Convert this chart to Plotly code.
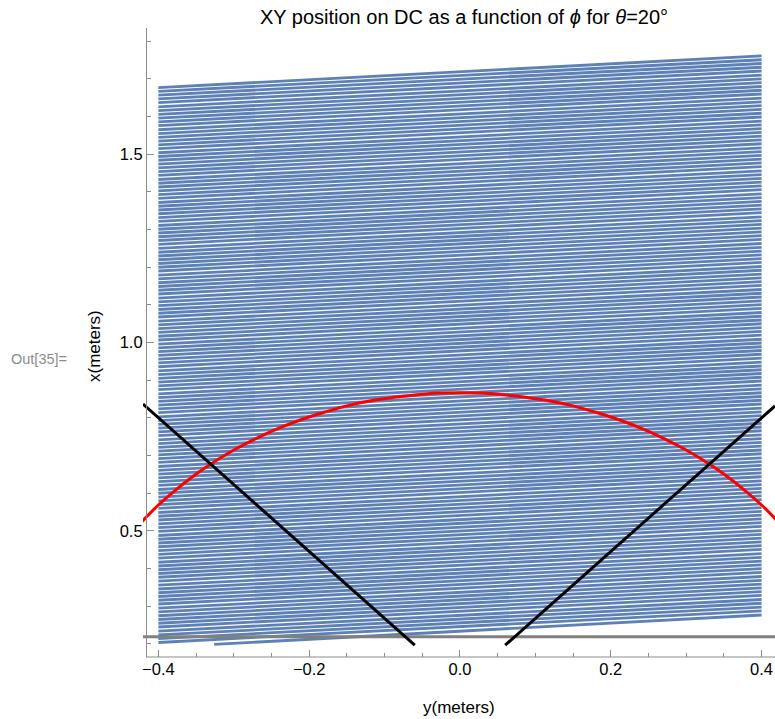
import plotly.graph_objects as go

# ---- data ----
# blue track lines: value (x, meters) at the left end y=-0.40; right end at y=+0.40 is higher by RISE
blue_left_x = [
    0.204, 0.214, 0.224, 0.234, 0.245, 0.255, 0.265, 0.275, 0.285, 0.295,
    0.306, 0.316, 0.326, 0.336, 0.346, 0.356, 0.367, 0.377, 0.387, 0.397,
    0.407, 0.417, 0.428, 0.438, 0.448, 0.458, 0.468, 0.478, 0.488, 0.499,
    0.509, 0.519, 0.529, 0.539, 0.549, 0.560, 0.570, 0.580, 0.590, 0.600,
    0.610, 0.621, 0.631, 0.641, 0.651, 0.661, 0.671, 0.682, 0.692, 0.702,
    0.712, 0.722, 0.732, 0.742, 0.753, 0.763, 0.773, 0.783, 0.793, 0.803,
    0.814, 0.824, 0.834, 0.844, 0.854, 0.864, 0.875, 0.885, 0.895, 0.905,
    0.915, 0.925, 0.936, 0.946, 0.956, 0.966, 0.976, 0.986, 0.996, 1.007,
    1.017, 1.027, 1.037, 1.047, 1.057, 1.068, 1.078, 1.088, 1.098, 1.108,
    1.118, 1.129, 1.139, 1.149, 1.159, 1.169, 1.179, 1.190, 1.200, 1.210,
    1.220, 1.230, 1.240, 1.250, 1.261, 1.271, 1.281, 1.291, 1.301, 1.311,
    1.322, 1.332, 1.342, 1.352, 1.362, 1.372, 1.383, 1.393, 1.403, 1.413,
    1.423, 1.433, 1.444, 1.454, 1.464, 1.474, 1.484, 1.494, 1.504, 1.515,
    1.525, 1.535, 1.545, 1.555, 1.565, 1.576, 1.586, 1.596, 1.606, 1.616,
    1.626, 1.637, 1.647, 1.657, 1.667, 1.677,
]
BLUE_Y_START = -0.40
BLUE_Y_END = 0.40
RISE = 0.084
# partial lowest line
partial_y = [-0.326, 0.40]
partial_x = [0.199, 0.277]

# red curve
red_y = [-0.425, -0.40, -0.38, -0.36, -0.34, -0.32, -0.30, -0.27, -0.24, -0.21,
         -0.18, -0.15, -0.12, -0.09, -0.06, -0.03, 0.0,
         0.03, 0.06, 0.09, 0.12, 0.15, 0.18, 0.21, 0.24, 0.27, 0.30,
         0.32, 0.34, 0.36, 0.38, 0.40, 0.425]
red_x = [0.518, 0.569, 0.604, 0.636, 0.665, 0.691, 0.715, 0.746, 0.773, 0.796,
         0.815, 0.832, 0.845, 0.854, 0.861, 0.866, 0.867,
         0.866, 0.861, 0.854, 0.845, 0.832, 0.815, 0.796, 0.773, 0.746, 0.715,
         0.691, 0.665, 0.636, 0.604, 0.569, 0.518]

# black lines
black_left_y = [-0.4204, -0.060]
black_left_x = [0.837, 0.197]
black_right_y = [0.060, 0.4178]
black_right_x = [0.197, 0.832]

# gray line
gray_y = [-0.43, 0.43]
gray_x = [0.219, 0.219]

# axis ranges
XR = [-0.4204, 0.4178]
YR = [0.1654, 1.8352]

FONT = "Liberation Sans"
AXC = "#8c8c8c"

# ---- build blue segments ----
bx, by = [], []
for v in blue_left_x:
    bx += [BLUE_Y_START, BLUE_Y_END, None]
    by += [v, v + RISE, None]
bx += partial_y + [None]
by += partial_x + [None]

fig = go.Figure()
fig.add_trace(go.Scatter(x=bx, y=by, mode="lines",
                         line=dict(color="#5E81B5", width=2.85),
                         hoverinfo="skip", showlegend=False))
fig.add_trace(go.Scatter(x=red_y, y=red_x, mode="lines",
                         line=dict(color="#FF0000", width=3, shape="spline"),
                         hoverinfo="skip", showlegend=False))
fig.add_trace(go.Scatter(x=gray_y, y=gray_x, mode="lines",
                         line=dict(color="#808080", width=3),
                         hoverinfo="skip", showlegend=False))
fig.add_trace(go.Scatter(x=black_left_y, y=black_left_x, mode="lines",
                         line=dict(color="#000000", width=3),
                         hoverinfo="skip", showlegend=False))
fig.add_trace(go.Scatter(x=black_right_y, y=black_right_x, mode="lines",
                         line=dict(color="#000000", width=3),
                         hoverinfo="skip", showlegend=False))

ypos = 3 / 632.0

fig.update_layout(
    width=775, height=719,
    margin=dict(l=143, r=0, t=28, b=62),
    paper_bgcolor="white", plot_bgcolor="white",
    font=dict(family=FONT, color="black"),
    showlegend=False,
    xaxis=dict(range=XR, showgrid=False, zeroline=False, showline=False,
               ticks="inside", ticklen=7, tickwidth=1, tickcolor=AXC,
               tick0=0, dtick=0.2, tickformat=".1f",
               tickfont=dict(size=16.5, color="black"),
               minor=dict(dtick=0.05, tick0=0, ticks="inside", ticklen=4,
                          tickwidth=1, tickcolor=AXC)),
    yaxis=dict(range=YR, showgrid=False, zeroline=False, showline=True,
               linecolor=AXC, linewidth=1.2, anchor="free", position=ypos,
               ticks="inside", ticklen=7, tickwidth=1, tickcolor=AXC,
               tick0=0, dtick=0.5, tickformat=".1f",
               tickfont=dict(size=16.5, color="black"),
               minor=dict(dtick=0.1, tick0=0, ticks="inside", ticklen=4,
                          tickwidth=1, tickcolor=AXC)),
    title=dict(text="XY position on DC as a function of <i>ϕ</i> for <i>θ</i>=20°",
               x=464 / 775, y=1 - 17 / 719, xref="container", yref="container",
               xanchor="center", yanchor="middle",
               font=dict(family=FONT, size=20, color="black")),
)

fig.add_shape(type="line", xref="paper", yref="paper",
              x0=ypos, x1=1, y0=0, y1=0,
              line=dict(color=AXC, width=1.2))

fig.add_annotation(text="y(meters)", xref="paper", yref="paper",
                   x=(459 - 143) / 632, y=-(707 - 657) / 629,
                   xanchor="center", yanchor="middle", showarrow=False,
                   font=dict(family=FONT, size=17, color="black"))
fig.add_annotation(text="x(meters)", xref="paper", yref="paper",
                   x=(94 - 143) / 632, y=(657 - 346) / 629, textangle=-90,
                   xanchor="center", yanchor="middle", showarrow=False,
                   font=dict(family=FONT, size=17, color="black"))
fig.add_annotation(text="Out[35]=", xref="paper", yref="paper",
                   x=(9 - 143) / 632, y=(657 - 359) / 629,
                   xanchor="left", yanchor="middle", showarrow=False,
                   font=dict(family=FONT, size=14.5, color="#8c8c8c"))

fig.write_html("out.html")
